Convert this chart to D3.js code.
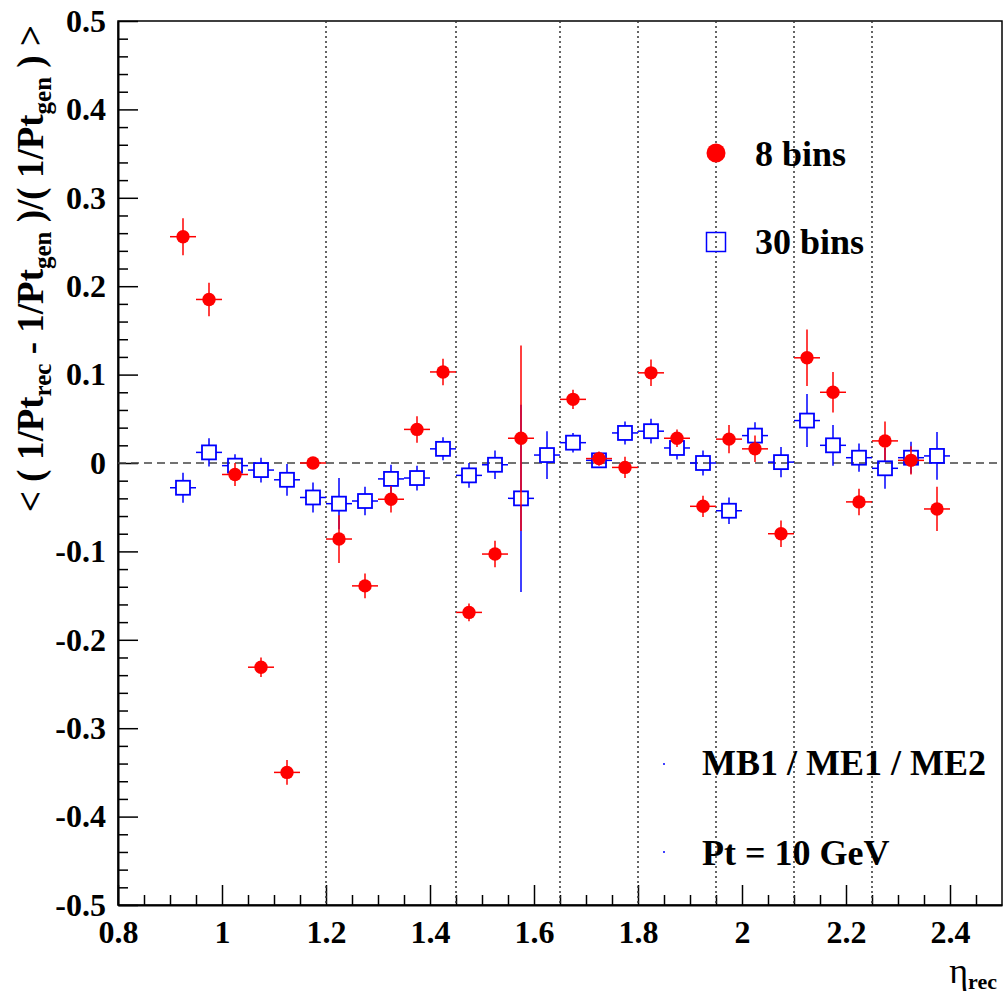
<!DOCTYPE html>
<html>
<head>
<meta charset="utf-8">
<script src="https://cdn.jsdelivr.net/npm/d3@7"></script>
<style>
  body { margin: 0; background: #fff; }
</style>
</head>
<body>
<div id="chart"></div>
<script>
// bin centres in eta_rec
const etaCenters = [0.925, 0.975, 1.025, 1.075, 1.125, 1.175, 1.225, 1.275, 1.325, 1.375,
                    1.425, 1.475, 1.525, 1.575, 1.625, 1.675, 1.725, 1.775, 1.825, 1.875,
                    1.925, 1.975, 2.025, 2.075, 2.125, 2.175, 2.225, 2.275, 2.325, 2.375];

// "8 bins" (red circles), null = no point
const res8 = [0.256, 0.185, -0.013, -0.231, -0.350, 0.000, -0.086, -0.139, -0.041, 0.038,
              0.103, -0.169, -0.103, 0.028, null, 0.072, 0.005, -0.005, 0.102, 0.028,
              -0.049, 0.027, 0.016, -0.080, 0.119, 0.080, -0.044, 0.025, 0.003, -0.052];
const err8 = [0.021, 0.019, 0.013, 0.011, 0.014, 0.004, 0.027, 0.014, 0.015, 0.015,
              0.015, 0.010, 0.015, 0.105, 0, 0.011, 0.008, 0.012, 0.015, 0.010,
              0.012, 0.016, 0.015, 0.015, 0.032, 0.023, 0.015, 0.022, 0.016, 0.025];

// "30 bins" (blue open squares)
const res30 = [-0.028, 0.012, -0.003, -0.008, -0.019, -0.039, -0.046, -0.043, -0.018, -0.017,
               0.016, -0.014, -0.002, -0.040, 0.009, 0.023, 0.003, 0.034, 0.036, 0.017,
               0.000, -0.054, 0.031, 0.001, 0.048, 0.020, 0.006, -0.006, 0.006, 0.008];
const err30 = [0.017, 0.016, 0.013, 0.014, 0.018, 0.017, 0.029, 0.016, 0.016, 0.014,
               0.013, 0.014, 0.016, 0.106, 0.027, 0.011, 0.008, 0.013, 0.014, 0.013,
               0.014, 0.015, 0.015, 0.017, 0.030, 0.023, 0.016, 0.023, 0.018, 0.027];

const halfBin = 0.025;

// dotted region boundaries
const boundaries = [1.2, 1.45, 1.65, 1.8, 1.95, 2.1, 2.25];

const xMajor = [0.8, 1.0, 1.2, 1.4, 1.6, 1.8, 2.0, 2.2, 2.4];
const yMajor = [-0.5, -0.4, -0.3, -0.2, -0.1, 0, 0.1, 0.2, 0.3, 0.4, 0.5];

const W = 1003, H = 993;
const margin = {left: 118, right: 1002, top: 21, bottom: 905};
const serif = '"Liberation Serif", "Times New Roman", Times, Tinos, "DejaVu Serif", "Noto Serif", FreeSerif, serif';

const svg = d3.select("#chart").append("svg")
    .attr("width", W)
    .attr("height", H)
    .style("font-family", serif);

const x = d3.scaleLinear().domain([0.8, 2.5]).range([margin.left, margin.right]);
const y = d3.scaleLinear().domain([-0.5, 0.5]).range([margin.bottom, margin.top]);

const fmt = d => (Math.abs(d) < 1e-9 ? "0" : String(+d.toFixed(1)));

// frame
svg.append("rect")
    .attr("x", margin.left).attr("y", margin.top)
    .attr("width", margin.right - margin.left).attr("height", margin.bottom - margin.top)
    .attr("fill", "none")
    .attr("stroke", "#000")
    .attr("stroke-width", 1.5);

// minor ticks
const xMinor = d3.range(0.85, 2.5, 0.05).filter(v => Math.abs(v * 5 - Math.round(v * 5)) > 1e-6);
const yMinor = d3.range(-0.48, 0.5, 0.02).filter(v => Math.abs(v * 10 - Math.round(v * 10)) > 1e-6);

svg.append("g")
    .attr("transform", `translate(0,${margin.bottom})`)
    .call(d3.axisBottom(x).tickValues(xMinor).tickSizeInner(-10).tickSizeOuter(0).tickFormat(""))
    .call(g => g.select(".domain").remove())
    .selectAll("line").attr("stroke-width", 1.5);

svg.append("g")
    .attr("transform", `translate(${margin.left},0)`)
    .call(d3.axisLeft(y).tickValues(yMinor).tickSizeInner(-10).tickSizeOuter(0).tickFormat(""))
    .call(g => g.select(".domain").remove())
    .selectAll("line").attr("stroke-width", 1.5);

// major axes
const xAxis = svg.append("g")
    .attr("transform", `translate(0,${margin.bottom})`)
    .call(d3.axisBottom(x).tickValues(xMajor).tickSizeInner(-20).tickSizeOuter(0).tickPadding(15).tickFormat(fmt));
xAxis.attr("font-family", null);
xAxis.select(".domain").attr("stroke-width", 2);
xAxis.selectAll("line").attr("stroke-width", 1.5);
xAxis.selectAll("text")
    .style("font-family", serif)
    .attr("font-size", 32)
    .attr("font-weight", "bold")
    .attr("fill", "#000");

const yAxis = svg.append("g")
    .attr("transform", `translate(${margin.left},0)`)
    .call(d3.axisLeft(y).tickValues(yMajor).tickSizeInner(-20).tickSizeOuter(0).tickPadding(12).tickFormat(fmt));
yAxis.attr("font-family", null);
yAxis.select(".domain").attr("stroke-width", 2);
yAxis.selectAll("line").attr("stroke-width", 1.5);
yAxis.selectAll("text")
    .style("font-family", serif)
    .attr("font-size", 32)
    .attr("font-weight", "bold")
    .attr("fill", "#000");

// dotted vertical boundaries
svg.append("g").selectAll("line")
    .data(boundaries)
    .join("line")
    .attr("x1", d => x(d)).attr("x2", d => x(d))
    .attr("y1", margin.top).attr("y2", margin.bottom)
    .attr("stroke", "#333")
    .attr("stroke-width", 1.5)
    .attr("stroke-dasharray", "2,3");

// zero line
svg.append("line")
    .attr("x1", x(0.8)).attr("x2", x(2.5))
    .attr("y1", y(0)).attr("y2", y(0))
    .attr("stroke", "#444")
    .attr("stroke-width", 1.5)
    .attr("stroke-dasharray", "8,5");

// 30 bins: open squares with error bars that stop at the marker
const sq = 7;
const blue = "#0000ff";
const pts30 = etaCenters.map((c, i) => ({c, v: res30[i], e: err30[i]})).filter(d => d.v !== null);
const g30 = svg.append("g");
pts30.forEach(d => {
    const cx = x(d.c), cy = y(d.v);
    const segs = [
        [x(d.c - halfBin), cy, cx - sq, cy],
        [cx + sq, cy, x(d.c + halfBin), cy]
    ];
    if (y(d.v + d.e) < cy - sq) segs.push([cx, y(d.v + d.e), cx, cy - sq]);
    if (y(d.v - d.e) > cy + sq) segs.push([cx, cy + sq, cx, y(d.v - d.e)]);
    segs.forEach(s => g30.append("line")
        .attr("x1", s[0]).attr("y1", s[1]).attr("x2", s[2]).attr("y2", s[3])
        .attr("stroke", blue).attr("stroke-width", 1.5));
    g30.append("rect")
        .attr("x", cx - sq).attr("y", cy - sq)
        .attr("width", 2 * sq).attr("height", 2 * sq)
        .attr("fill", "none")
        .attr("stroke", blue)
        .attr("stroke-width", 1.8);
});

// 8 bins: filled circles
const red = "#ff0000";
const pts8 = etaCenters.map((c, i) => ({c, v: res8[i], e: err8[i]})).filter(d => d.v !== null);
const g8 = svg.append("g");
g8.selectAll("line.h")
    .data(pts8)
    .join("line")
    .attr("class", "h")
    .attr("x1", d => x(d.c - halfBin)).attr("x2", d => x(d.c + halfBin))
    .attr("y1", d => y(d.v)).attr("y2", d => y(d.v))
    .attr("stroke", red).attr("stroke-width", 1.5);
g8.selectAll("line.v")
    .data(pts8)
    .join("line")
    .attr("class", "v")
    .attr("x1", d => x(d.c)).attr("x2", d => x(d.c))
    .attr("y1", d => y(d.v + d.e)).attr("y2", d => y(d.v - d.e))
    .attr("stroke", red).attr("stroke-width", 1.5);
g8.selectAll("circle")
    .data(pts8)
    .join("circle")
    .attr("cx", d => x(d.c)).attr("cy", d => y(d.v))
    .attr("r", 6.7)
    .attr("fill", red);

// legend
svg.append("circle")
    .attr("cx", 716).attr("cy", 153).attr("r", 9.5)
    .attr("fill", red);
svg.append("rect")
    .attr("x", 706.5).attr("y", 232.5).attr("width", 19).attr("height", 19)
    .attr("fill", "none").attr("stroke", blue).attr("stroke-width", 1.5);
svg.append("circle").attr("cx", 664).attr("cy", 764).attr("r", 1).attr("fill", blue);
svg.append("circle").attr("cx", 664).attr("cy", 852).attr("r", 1).attr("fill", blue);

const legendText = [
    {t: "8 bins", x: 755, y: 166},
    {t: "30 bins", x: 755, y: 254},
    {t: "MB1 / ME1 / ME2", x: 702, y: 775},
    {t: "Pt = 10 GeV", x: 702, y: 865}
];
svg.append("g").selectAll("text")
    .data(legendText)
    .join("text")
    .style("font-family", serif)
    .attr("x", d => d.x).attr("y", d => d.y)
    .attr("font-size", 36)
    .attr("font-weight", "bold")
    .text(d => d.t);

// x title
const xt = svg.append("text")
    .style("font-family", serif)
    .attr("x", 997).attr("y", 983)
    .attr("text-anchor", "end");
xt.append("tspan").attr("font-size", 36).text("η");
xt.append("tspan").attr("font-size", 22).attr("font-weight", "bold").attr("dy", 6).text("rec");

// y title
const yt = svg.append("text")
    .style("font-family", serif)
    .attr("transform", "translate(43,25) rotate(-90)")
    .attr("text-anchor", "end")
    .attr("font-size", 37)
    .attr("font-weight", "bold");
const parts = [
    ["< ( 1/Pt", false], ["rec", true], [" - 1/Pt", false], ["gen", true],
    [" )/( 1/Pt", false], ["gen", true], [" ) >", false]
];
parts.forEach(([t, sub], i) => {
    const prevSub = i > 0 && parts[i - 1][1];
    yt.append("tspan")
        .attr("font-size", sub ? 25 : 37)
        .attr("dy", sub ? 8 : (prevSub ? -8 : 0))
        .attr("xml:space", "preserve")
        .text(t);
});
</script>
</body>
</html>
